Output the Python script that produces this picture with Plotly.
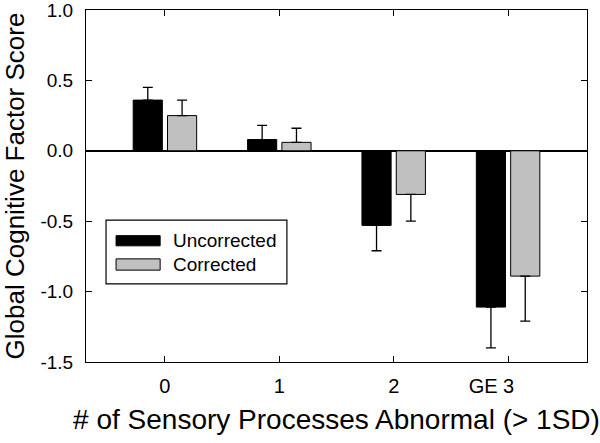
import plotly.graph_objects as go

categories = ["0", "1", "2", "GE 3"]
xtick_text = ["0", "1", "2", "GE\u00a03" + "\u00a0" * 6]
uncorrected = [0.36, 0.08, -0.53, -1.11]
uncorrected_err = [0.09, 0.10, 0.18, 0.29]
corrected = [0.25, 0.06, -0.31, -0.89]
corrected_err = [0.11, 0.10, 0.19, 0.32]
ytick_vals = [-1.5, -1.0, -0.5, 0.0, 0.5, 1.0]
ytick_text = ["-1.5", "-1.0", "-0.5", "0.0", "0.5", "1.0"]

FONT = "Liberation Sans, Arial, sans-serif"


def one_sided(vals, errs):
    plus = [e if v >= 0 else 0 for v, e in zip(vals, errs)]
    minus = [e if v < 0 else 0 for v, e in zip(vals, errs)]
    return plus, minus


fig = go.Figure()
for name, vals, errs, color in [
    ("Uncorrected", uncorrected, uncorrected_err, "#000000"),
    ("Corrected", corrected, corrected_err, "#c0c0c0"),
]:
    p, m = one_sided(vals, errs)
    fig.add_trace(go.Bar(
        x=categories, y=vals, name=name,
        marker=dict(color=color, line=dict(color="#000000", width=1)),
        error_y=dict(type="data", symmetric=False, array=p, arrayminus=m,
                     color="#000000", thickness=1.3, width=5),
        showlegend=False,
    ))

# hand-drawn legend (wide swatches like the original)
shapes = [
    dict(type="rect", xref="paper", yref="paper", x0=0.04, x1=0.401, y0=0.222, y1=0.403,
         line=dict(color="#000000", width=1.2), fillcolor="white"),
    dict(type="rect", xref="paper", yref="paper", x0=0.06, x1=0.148, y0=0.330, y1=0.359,
         line=dict(color="#000000", width=1), fillcolor="#000000"),
    dict(type="rect", xref="paper", yref="paper", x0=0.06, x1=0.148, y0=0.261, y1=0.293,
         line=dict(color="#000000", width=1), fillcolor="#c0c0c0"),
]
annotations = [
    dict(xref="paper", yref="paper", x=0.169, y=0.344, text="Uncorrected", showarrow=False,
         xanchor="left", yanchor="middle", font=dict(family=FONT, size=19, color="#000000")),
    dict(xref="paper", yref="paper", x=0.169, y=0.278, text="Corrected", showarrow=False,
         xanchor="left", yanchor="middle", font=dict(family=FONT, size=19, color="#000000")),
]

fig.update_layout(
    width=600, height=443,
    margin=dict(l=86, r=13, t=10, b=81),
    paper_bgcolor="white", plot_bgcolor="white",
    barmode="group", bargap=0.4, bargroupgap=0.15,
    font=dict(family=FONT, color="#000000"),
    shapes=shapes, annotations=annotations,
    xaxis=dict(
        type="category", range=[-0.69, 3.69],
        tickvals=categories, ticktext=xtick_text,
        showline=True, linecolor="#000000", linewidth=1, mirror="ticks",
        ticks="inside", ticklen=6, tickcolor="#000000", tickwidth=1,
        showgrid=False, zeroline=False,
        tickfont=dict(family=FONT, size=20, color="#000000"),
        ticklabelstandoff=6,
        title=dict(text="# of Sensory Processes Abnormal (> 1SD)",
                   font=dict(family=FONT, size=28, color="#000000"), standoff=13),
        automargin=False,
    ),
    yaxis=dict(
        range=[-1.5, 1.0], tickvals=ytick_vals, ticktext=ytick_text,
        ticklabeloverflow="allow",
        showline=True, linecolor="#000000", linewidth=1, mirror="ticks",
        ticks="inside", ticklen=6, tickcolor="#000000", tickwidth=1,
        showgrid=False, zeroline=True, zerolinecolor="#000000", zerolinewidth=1.5,
        tickfont=dict(family=FONT, size=19, color="#000000"),
        ticklabelstandoff=8,
        title=dict(text="Global Cognitive Factor Score",
                   font=dict(family=FONT, size=26, color="#000000"), standoff=8),
        automargin=False,
    ),
)

fig.write_html("out.html", config={"displayModeBar": False},
               post_script="document.body.style.margin='0';")
